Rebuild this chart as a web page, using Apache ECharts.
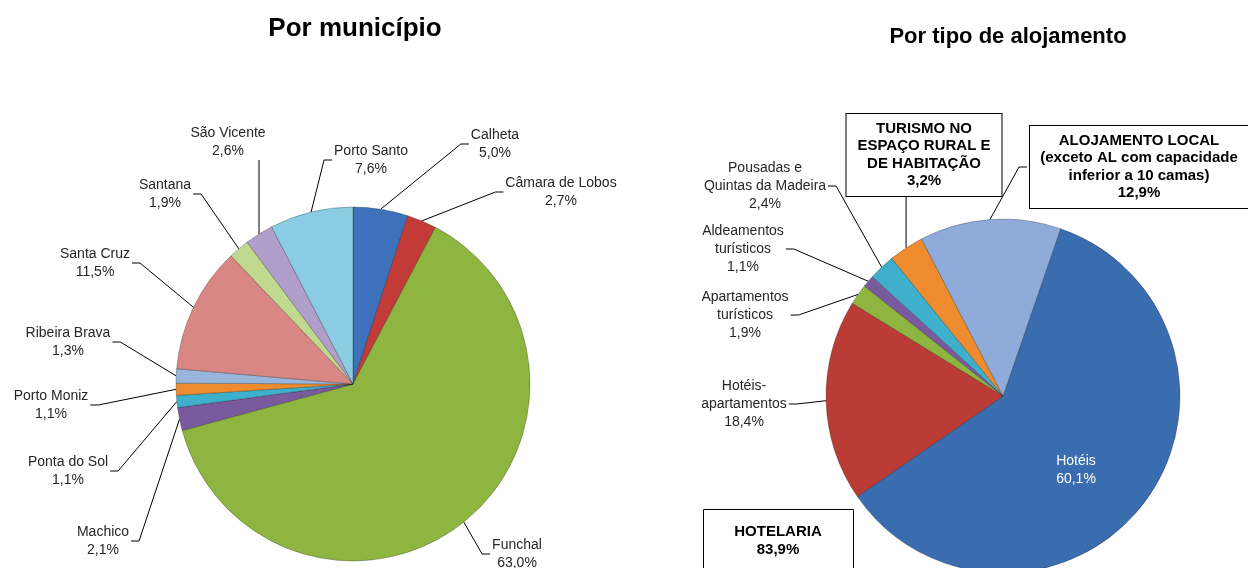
<!DOCTYPE html>
<html>
<head>
<meta charset="utf-8">
<script src="https://cdn.jsdelivr.net/npm/echarts@6/dist/echarts.min.js"></script>
<style>
html, body { margin: 0; padding: 0; background: #fff; }
#chart { width: 1248px; height: 568px; }
</style>
</head>
<body>
<div id="chart"></div>
<script>
// Por município (%)
const municipios = ['Calheta', 'Câmara de Lobos', 'Funchal', 'Machico', 'Ponta do Sol', 'Porto Moniz',
    'Ribeira Brava', 'Santa Cruz', 'Santana', 'São Vicente', 'Porto Santo'];
const municipioPct = [5.0, 2.7, 63.0, 2.1, 1.1, 1.1, 1.3, 11.5, 1.9, 2.6, 7.6];

// Por tipo de alojamento (%)
const tipos = ['Hotéis', 'Hotéis-\napartamentos', 'Apartamentos\nturísticos', 'Aldeamentos\nturísticos',
    'Pousadas e\nQuintas da Madeira', 'TURISMO NO\nESPAÇO RURAL E\nDE HABITAÇÃO',
    'ALOJAMENTO LOCAL\n(exceto AL com capacidade\ninferior a 10 camas)'];
const tipoPct = [60.1, 18.4, 1.9, 1.1, 2.4, 3.2, 12.9];
const hotelariaTipos = 5; // os primeiros 5 tipos formam a hotelaria

const coresMunicipio = ['#3d72bb', '#c23b36', '#8db540', '#7a5a9e', '#3fb0cc', '#f08c30',
    '#9ab5dc', '#d98784', '#c1d98f', '#b19fcb', '#8acde2'];
const coresTipo = ['#3a6cb0', '#bb3b37', '#8db540', '#7a5a9e', '#3fb0cc', '#f08c30', '#8eabd9'];

// centros das etiquetas (layout)
const posMunicipio = [[495, 144], [561, 192], [517, 554], [103, 541], [68, 471], [51, 405],
    [68, 342], [95, 263], [165, 194], [228, 142], [371, 160]];
const posTipo = [[1076, 470], [744, 404], [745, 315], [743, 249], [765, 186], [924, 155], [1139, 167]];

const FONT = 'Liberation Sans, Arial, sans-serif';

function pct(v) {
    return v.toFixed(1).replace('.', ',') + '%';
}

function placeLabels(pos) {
    return function (params) {
        const p = pos[params.dataIndex];
        const w = params.labelRect.width, h = params.labelRect.height;
        const out = { x: p[0], y: p[1], align: 'center', verticalAlign: 'middle' };
        const pts = params.labelLinePoints;
        if (pts) {
            const a = pts[0];
            const left = p[0] - w / 2 - 2, right = p[0] + w / 2 + 2;
            const top = p[1] - h / 2, bottom = p[1] + h / 2;
            if (a[0] > left && a[0] < right) {
                const yEdge = a[1] > p[1] ? bottom : top;
                out.labelLinePoints = [a, [a[0], yEdge], [a[0], yEdge]];
            } else if (a[0] < left) {
                out.labelLinePoints = [a, [left - 8, p[1]], [left, p[1]]];
            } else {
                out.labelLinePoints = [a, [right + 8, p[1]], [right, p[1]]];
            }
        }
        return out;
    };
}

const boxLabel = {
    fontWeight: 'bold',
    fontSize: 15,
    lineHeight: 17.5,
    color: '#000',
    backgroundColor: '#fff',
    borderColor: '#000',
    borderWidth: 1,
    padding: [6, 7, 6, 7],
    align: 'center'
};

const dataMunicipio = municipios.map((n, i) => ({
    name: n, value: municipioPct[i], itemStyle: { color: coresMunicipio[i] }
}));

const dataTipo = tipos.map((n, i) => {
    const item = { name: n, value: tipoPct[i], itemStyle: { color: coresTipo[i] } };
    if (i === 0) {
        item.label = { position: 'inside', color: '#fff' };
        item.labelLine = { show: false };
    } else if (i === 5) {
        item.label = Object.assign({ width: 141 }, boxLabel);
    } else if (i === 6) {
        item.label = Object.assign({ width: 204 }, boxLabel);
    }
    return item;
});

const hotelaria = tipoPct.slice(0, hotelariaTipos).reduce((s, v) => s + v, 0);

const commonLabel = {
    show: true,
    position: 'outside',
    formatter: p => p.name + '\n' + pct(p.value),
    fontFamily: FONT,
    fontSize: 14,
    lineHeight: 18,
    color: '#262626',
    align: 'center'
};
const commonLine = {
    show: true,
    length: 10,
    length2: 8,
    lineStyle: { color: '#000', width: 1 }
};

const chart = echarts.init(document.getElementById('chart'));
chart.setOption({
    backgroundColor: '#fff',
    animation: false,
    graphic: [
        {
            type: 'text', x: 355, y: 29,
            style: { text: 'Por município', font: 'bold 26px ' + FONT, fill: '#000', align: 'center', verticalAlign: 'middle' }
        },
        {
            type: 'text', x: 1008, y: 37,
            style: { text: 'Por tipo de alojamento', font: 'bold 22px ' + FONT, fill: '#000', align: 'center', verticalAlign: 'middle' }
        },
        {
            type: 'rect', shape: { x: 703.5, y: 509.5, width: 150, height: 80 },
            style: { fill: '#fff', stroke: '#000', lineWidth: 1 }
        },
        {
            type: 'text', x: 778, y: 541,
            style: {
                text: 'HOTELARIA\n' + pct(hotelaria), font: 'bold 15px ' + FONT, lineHeight: 17.5,
                fill: '#000', align: 'center', verticalAlign: 'middle'
            }
        }
    ],
    series: [
        {
            type: 'pie',
            center: [353, 384],
            radius: 177,
            startAngle: 90,
            clockwise: true,
            avoidLabelOverlap: false,
            itemStyle: { borderColor: 'rgba(0,0,0,0.25)', borderWidth: 1 },
            label: commonLabel,
            labelLine: commonLine,
            labelLayout: placeLabels(posMunicipio),
            emphasis: { disabled: true },
            data: dataMunicipio
        },
        {
            type: 'pie',
            center: [1003, 396],
            radius: 177,
            startAngle: 71,
            clockwise: true,
            avoidLabelOverlap: false,
            itemStyle: { borderColor: 'rgba(0,0,0,0.25)', borderWidth: 1 },
            label: commonLabel,
            labelLine: commonLine,
            labelLayout: placeLabels(posTipo),
            emphasis: { disabled: true },
            data: dataTipo
        }
    ]
});
</script>
</body>
</html>
